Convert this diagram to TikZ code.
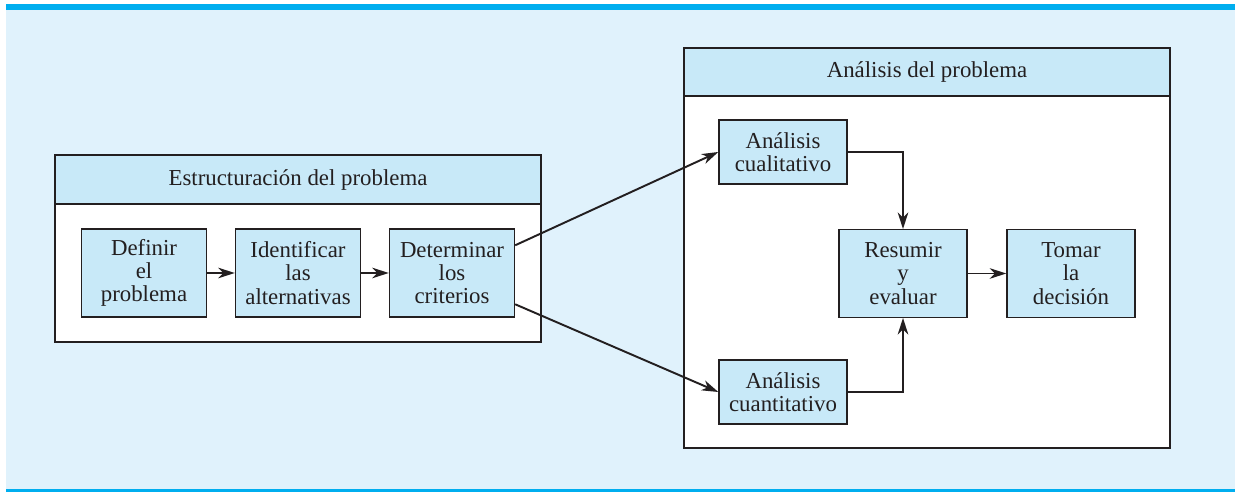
\documentclass[tikz,border=0pt]{standalone}
\usepackage{fontspec}
\setmainfont{Liberation Serif}
\usetikzlibrary{arrows.meta}
\usetikzlibrary{calc}

\definecolor{bgblue}{HTML}{E0F2FC}
\definecolor{barblue}{HTML}{00AEEF}
\definecolor{boxblue}{HTML}{C8E9F8}
\definecolor{ink}{HTML}{231F20}

\begin{document}
\begin{tikzpicture}[x=0.02cm, y=-0.02cm, line cap=round,
    stepbox/.style={draw=ink, line width=0.8pt, fill=boxblue, text=ink, align=center,
        inner sep=0pt, minimum width=2.5cm, font=\fontsize{13}{13.2}\selectfont},
    title/.style={text=ink, font=\fontsize{13}{13.2}\selectfont},
    frame/.style={draw=ink, line width=1.1pt},
    link/.style={draw=ink, line width=1.1pt, line cap=butt,
        -{Stealth[length=3.3mm, width=2.1mm, inset=1mm]}}]

    \useasboundingbox (0,0) rectangle (1235,492);

    % background and rules
    \fill [bgblue] (6,4) rectangle (1235,492);
    \fill [barblue] (6,4) rectangle (1235,10);
    \fill [barblue] (6,489) rectangle (1235,492);

    % structuring
    \draw [frame, fill=white] (55,155) rectangle (541,342);
    \draw [frame, fill=boxblue] (55,155) rectangle (541,204);
    \node [title] (struct) at (298,180) {Estructuración del problema};

    \node [stepbox, minimum height=1.76cm] (def) at (144,273) {Definir\\el\\problema};
    \node [stepbox, minimum height=1.76cm] (ident) at (298,273) {Identificar\\las\\alternativas};
    \node [stepbox, minimum height=1.76cm] (det) at (452,273) {Determinar\\los\\criterios};

    % analysis
    \draw [frame, fill=white] (684,48) rectangle (1170,448);
    \draw [frame, fill=boxblue] (684,48) rectangle (1170,96);
    \node [title] (anal) at (927,72) {Análisis del problema};

    \node [stepbox, minimum width=2.56cm, minimum height=1.28cm] (cual) at (783,152) {Análisis\\cualitativo};
    \node [stepbox, minimum width=2.56cm, minimum height=1.28cm] (cuant) at (783,392) {Análisis\\cuantitativo};
    \node [stepbox, minimum width=2.56cm, minimum height=1.75cm] (res) at (903,273.5) {Resumir\\y\\evaluar};
    \node [stepbox, minimum width=2.56cm, minimum height=1.75cm] (tom) at (1071,273.5) {Tomar\\la\\decisión};

    % connectors
    \draw [link] (def) -- (ident);
    \draw [link] (ident) -- (det);
    \draw [link] ($(det.north east)!0.19!(det.south east)$) -- (cual.west);
    \draw [link] ($(det.north east)!0.85!(det.south east)$) -- (cuant.west);
    \draw [link] (cual.east) -| (res.north);
    \draw [link] (cuant.east) -| (res.south);
    \draw [link] (res) -- (tom);

\end{tikzpicture}
\end{document}
